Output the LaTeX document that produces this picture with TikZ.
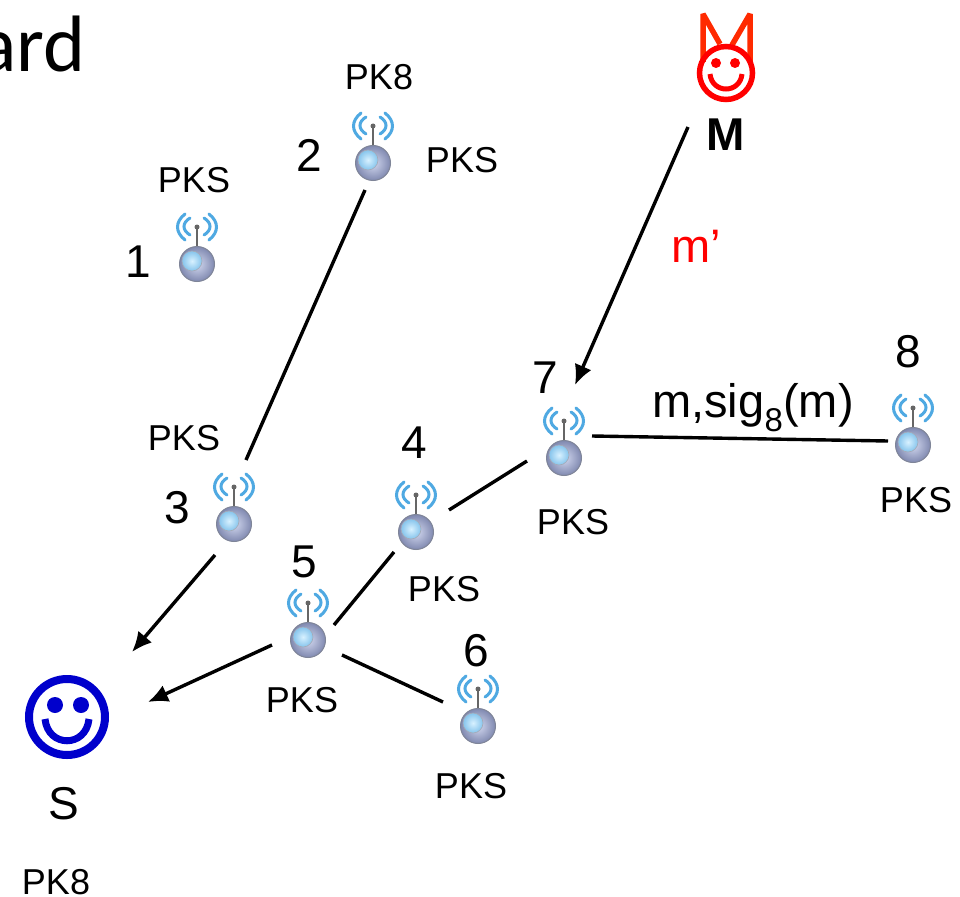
\documentclass[tikz,border=0pt]{standalone}
\usepackage{fontspec}
\setmainfont{Liberation Sans}
\newfontfamily\titlefont{Carlito}
\usetikzlibrary{arrows.meta}
\definecolor{wave}{HTML}{4FA9E2}
\definecolor{devil}{HTML}{FF2A00}
\definecolor{sblue}{HTML}{0000CC}
\definecolor{BallIn}{HTML}{D3D9F0}
\definecolor{BallOut}{HTML}{8089B0}
\definecolor{BallEdge}{HTML}{7F8598}
\definecolor{SpotIn}{HTML}{D8F1FF}
\definecolor{SpotOut}{HTML}{86C4EC}
\tikzset{
  x=1pt,y=-1pt,
  link/.style={line width=3.4pt,black},
  arrowlink/.style={link,-{Latex[length=20pt,width=18pt]}},
  wavearc/.style={line width=3pt,wave,line cap=round},
  ballnode/.style={circle,minimum size=35pt,inner sep=0pt,draw=BallEdge,line width=1pt,shade,inner color=BallIn,outer color=BallOut},
  lab/.style={font=\fontsize{36}{40}\selectfont,inner sep=0pt},
  bigtext/.style={font=\fontsize{47}{50}\selectfont,inner sep=0pt},
  num/.style={font=\fontsize{46}{50}\selectfont,inner sep=0pt}
}
\newcommand{\sensorat}[3]{%
  \begin{scope}[shift={(#2,#3)}]
    \draw[line width=2.6pt,black!60] (0,-14) -- (0,-37);
    \fill[black!60] (0,-37) circle (2.5);
    \draw[wavearc] (-12,-50) .. controls (-22,-42) and (-22,-32) .. (-12,-24);
    \draw[wavearc] (-7,-46) .. controls (-15,-41) and (-15,-34) .. (-7,-29);
    \draw[wavearc] (12,-50) .. controls (22,-42) and (22,-32) .. (12,-24);
    \draw[wavearc] (7,-46) .. controls (15,-41) and (15,-34) .. (7,-29);
    \node[ballnode] (#1) at (0,0) {};
    \shade[inner color=SpotIn,outer color=SpotOut,draw=BallEdge!70,line width=0.6pt] (-5,-3) circle (10);
  \end{scope}}
\begin{document}
\begin{tikzpicture}
\useasboundingbox (0,0) rectangle (960,896);
\clip (0,0) rectangle (960,896);
\fill[white] (0,0) rectangle (960,896);
\node[anchor=base east,inner sep=0pt,font=\titlefont\fontsize{80}{84}\selectfont] (title) at (86,72) {ard};
\sensorat{n1}{197}{264}
\sensorat{n2}{373}{163}
\sensorat{n3}{234}{524}
\sensorat{n4}{416}{532}
\sensorat{n5}{308}{640}
\sensorat{n6}{478}{726}
\sensorat{n7}{564}{458}
\sensorat{n8}{913}{445}
% S smiley
\node[circle,draw=sblue,line width=8pt,minimum size=76pt,inner sep=0pt] (S) at (67,717) {};
\fill[sblue] (55,705) circle (8) (81,705) circle (8);
\draw[sblue,line width=7pt] (45,719) .. controls (48,748) and (86,748) .. (89,719);
% M devil
\draw[devil,line width=5.5pt,line join=bevel] (703,62) -- (703,14) -- (720,44);
\draw[devil,line width=5.5pt,line join=bevel] (732,45) -- (750,14) -- (750,62);
\node[circle,draw=red,line width=5.5pt,minimum size=53pt,inner sep=0pt] (Mface) at (726,73) {};
\fill[red] (716,63) circle (5) (735,63) circle (5);
\draw[red,line width=5pt] (710,74) .. controls (712,94) and (740,94) .. (742,74);
% labels
\node[lab] (t1) at (194,180) {PKS};
\node[lab] (t2) at (379,77) {PK8};
\node[lab] (t3) at (462,160) {PKS};
\node[lab] (t4) at (184,438) {PKS};
\node[lab] (t5) at (573,522) {PKS};
\node[lab] (t6) at (444,589) {PKS};
\node[lab] (t7) at (302,700) {PKS};
\node[lab] (t8) at (471,786) {PKS};
\node[lab] (t9) at (916,500) {PKS};
\node[lab] (t10) at (56,882) {PK8};
\node[num] (d1) at (138,262) {1};
\node[num] (d2) at (309,155) {2};
\node[num] (d3) at (177,508) {3};
\node[num] (d4) at (414,443) {4};
\node[num] (d5) at (304,562) {5};
\node[num] (d6) at (476,651) {6};
\node[num] (d7) at (545,378) {7};
\node[num] (d8) at (908,352) {8};
\node[num] (Sl) at (64,804) {S};
\node[num,font=\fontsize{46}{50}\selectfont\bfseries] (Ml) at (726,135) {M};
\node[bigtext,text=red] (mp) at (696,246) {m’};
\node[bigtext,anchor=base] (sig) at (753,417) {m,sig\textsubscript{8}(m)};
% connectors
\draw[link] ([shift={(-8,27)}]n2.center) -- ([shift={(12,-64)}]n3.center);
\draw[arrowlink] ([shift={(-19,31)}]n3.center) -- ([shift={(65,-65)}]S.center);
\draw[link] ([shift={(26,-15)}]n5.center) -- ([shift={(-22,20)}]n4.center);
\draw[link] ([shift={(33,-22)}]n4.center) -- ([shift={(-37,3)}]n7.center);
\draw[link] ([shift={(28,-22)}]n7.center) -- ([shift={(-25,-4)}]n8.center);
\draw[link] ([shift={(34,15)}]n5.center) -- ([shift={(-35,-24)}]n6.center);
\draw[arrowlink] ([shift={(-36,5)}]n5.center) -- ([shift={(81,-15)}]S.center);
\draw[arrowlink] ([shift={(-38,54)}]Mface.center) -- ([shift={(11,-73)}]n7.center);
\end{tikzpicture}
\end{document}
